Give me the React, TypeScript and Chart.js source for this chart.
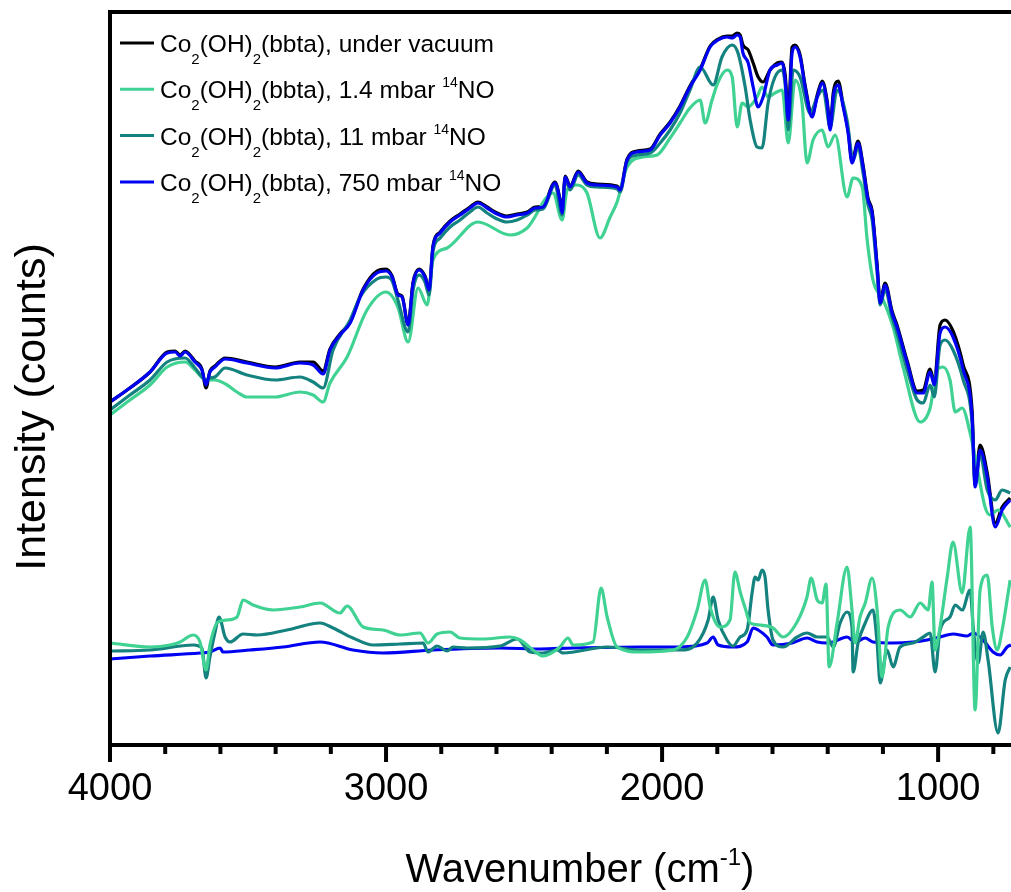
import React, { useEffect, useRef } from 'react';
import { Chart, registerables } from 'chart.js';

Chart.register(...registerables);

const FONT = '"Liberation Sans", Arial, Helvetica, sans-serif';

// ---------- x axis ticks ----------
const majorTicks = [1000, 2000, 3000, 4000];
const minorTicks = [800, 1200, 1400, 1600, 1800, 2200, 2400, 2600, 2800, 3200, 3400, 3600, 3800];

// ---------- upper spectra ----------
const vacuumWn = [4000,3928,3855,3793,3764,3746,3728,3692,3667,3652,3638,3620,3583,3504,3402,3312,3264,3228,3203,3167,3130,3083,3033,3000,2978,2957,2942,2920,2902,2880,2859,2844,2830,2804,2768,2732,2696,2667,2634,2605,2562,2525,2489,2460,2431,2388,2370,2362,2351,2333,2304,2272,2236,2163,2152,2127,2091,2043,2007,1971,1935,1899,1862,1826,1797,1765,1746,1728,1717,1707,1688,1670,1652,1634,1609,1583,1565,1554,1543,1529,1518,1500,1482,1457,1438,1420,1402,1391,1380,1362,1344,1326,1312,1290,1272,1254,1239,1221,1210,1192,1167,1149,1112,1076,1054,1029,1014,993,975,946,909,877,866,848,822,793,768,739];
const vacuumI = [343,357,373,393,394,390,394,384,376,357,374,379,387,383,378,383,383,374,396,411,423,456,474,476,469,451,449,421,463,476,469,456,499,513,524,531,538,543,538,533,529,531,533,538,539,563,546,533,569,559,574,563,561,559,556,586,594,596,611,623,639,659,676,699,706,709,709,712,710,700,695,682,668,663,675,682,683,670,632,698,700,690,660,630,650,664,644,617,652,664,640,614,584,604,580,547,534,480,444,462,434,420,384,354,355,376,363,420,425,414,380,335,262,300,272,222,238,247];

const mbar750Wn = [4000,3928,3855,3793,3764,3746,3728,3692,3667,3652,3638,3620,3583,3504,3402,3312,3264,3228,3203,3167,3130,3083,3033,3000,2978,2957,2942,2920,2902,2880,2859,2844,2830,2804,2768,2732,2696,2667,2634,2605,2562,2525,2489,2460,2431,2388,2370,2362,2351,2333,2304,2272,2236,2163,2152,2127,2091,2043,2007,1971,1935,1899,1862,1826,1797,1765,1746,1728,1717,1707,1688,1670,1652,1634,1609,1583,1565,1554,1543,1529,1518,1500,1482,1457,1438,1420,1402,1391,1380,1362,1344,1326,1312,1290,1272,1254,1239,1221,1210,1192,1167,1149,1112,1076,1054,1029,1014,993,975,946,909,877,866,848,822,793,768,739];
const mbar750I = [343,357,373,392,393,389,393,383,375,360,373,378,386,382,377,382,380,371,395,410,422,455,472,474,468,450,448,420,462,475,468,455,498,512,523,530,537,542,537,532,528,530,532,537,538,562,545,532,568,558,573,562,560,558,555,585,593,595,610,622,638,658,675,698,705,708,707,710,708,692,682,658,638,648,675,680,682,665,625,692,698,688,658,628,648,662,642,615,648,660,638,612,582,602,578,545,532,478,442,460,432,418,382,352,352,373,360,412,418,408,375,328,258,295,268,218,235,245];

const mbar11Wn = [4000,3928,3855,3793,3728,3692,3652,3638,3620,3583,3504,3402,3312,3264,3228,3192,3130,3094,3033,3000,2978,2957,2920,2902,2880,2859,2844,2830,2804,2768,2732,2696,2667,2634,2605,2562,2525,2489,2460,2431,2388,2362,2351,2333,2304,2272,2236,2163,2152,2127,2091,2043,2007,1971,1935,1899,1862,1815,1783,1746,1725,1699,1681,1656,1638,1616,1591,1565,1554,1543,1525,1500,1464,1438,1417,1391,1366,1330,1308,1290,1272,1254,1239,1221,1210,1192,1167,1149,1112,1076,1054,1029,1014,993,975,946,909,877,866,848,822,793,768,739];
const mbar11I = [335,350,365,383,387,377,365,367,368,377,370,365,368,363,357,395,425,448,466,468,464,445,413,455,470,463,450,493,507,518,525,533,538,532,527,523,525,530,535,536,560,530,565,555,570,560,558,556,553,583,590,592,602,615,632,655,678,660,688,700,692,658,625,598,597,642,668,675,660,615,675,668,632,648,655,618,655,625,585,598,572,540,525,472,440,455,428,412,375,345,342,360,348,400,405,395,365,322,260,290,255,245,255,252];

const mbar1p4Wn = [4000,3928,3855,3793,3728,3692,3652,3620,3576,3540,3504,3402,3312,3264,3228,3203,3141,3069,3000,2957,2920,2884,2851,2830,2779,2667,2551,2489,2395,2362,2344,2308,2272,2225,2188,2163,2127,2069,2018,1971,1935,1899,1862,1844,1819,1797,1765,1746,1728,1710,1688,1656,1638,1616,1591,1565,1543,1518,1493,1475,1453,1420,1399,1373,1330,1308,1275,1257,1236,1199,1163,1127,1065,1029,1004,982,957,938,913,884,859,830,812,783,739];
const mbar1p4I = [330,345,360,378,383,375,365,365,360,353,348,348,353,350,343,362,388,435,453,438,403,457,440,485,497,523,510,517,552,525,555,560,552,507,528,543,578,588,590,607,622,637,645,622,645,663,675,668,618,642,638,648,658,648,652,655,602,665,642,582,605,615,598,610,548,567,558,505,465,445,418,378,323,337,375,378,365,333,337,312,278,238,230,235,218];

// ---------- lower (difference) spectra ----------
const diff750Wn = [4000,3855,3674,3638,3601,3591,3493,3373,3239,3120,3011,2830,2587,2442,2322,2080,1935,1837,1815,1797,1743,1692,1670,1652,1620,1598,1529,1475,1438,1402,1380,1330,1301,1264,1236,1163,1091,1040,993,946,895,873,837,801,775,750,736];
const diff750I = [86,89,92,93,97,93,95,98,103,95,92,95,97,96,97,98,98,102,108,100,98,103,117,115,108,100,102,107,103,102,103,108,103,107,103,102,103,105,108,111,109,112,105,93,90,98,100];

const diff11Wn = [4000,3855,3699,3667,3652,3638,3620,3605,3583,3565,3518,3467,3359,3239,3192,3120,3047,2949,2866,2848,2815,2779,2757,2707,2587,2525,2478,2431,2380,2359,2199,2080,1935,1873,1833,1815,1797,1765,1743,1717,1692,1674,1663,1652,1638,1627,1616,1598,1562,1511,1475,1438,1402,1380,1355,1330,1312,1308,1290,1264,1236,1221,1210,1185,1163,1138,1091,1054,1029,1011,993,957,938,913,884,873,855,837,819,783,757,739];
const diff11I = [94,95,100,97,67,88,112,128,108,103,111,110,115,122,117,107,100,101,102,93,99,94,98,97,99,106,93,92,95,92,98,95,95,102,125,148,125,105,99,108,115,152,168,165,175,168,135,105,98,108,112,108,108,98,122,133,118,73,102,122,135,102,62,95,78,98,102,108,112,73,115,128,140,135,155,118,82,113,85,12,65,78];

const diff1p4Wn = [4000,3855,3783,3746,3699,3674,3652,3638,3609,3576,3540,3518,3482,3409,3312,3239,3167,3141,3083,3011,2949,2877,2848,2815,2768,2732,2649,2551,2514,2467,2431,2370,2341,2322,2250,2221,2199,2163,2080,1960,1909,1873,1844,1826,1790,1754,1736,1717,1699,1681,1645,1598,1562,1511,1475,1460,1438,1420,1406,1395,1366,1330,1312,1301,1283,1264,1239,1221,1203,1181,1138,1101,1065,1036,1022,1011,993,967,946,913,884,866,848,822,804,786,768,739];
const diff1p4I = [102,98,100,103,110,103,75,100,123,125,128,145,140,135,138,142,132,139,118,115,110,112,102,111,113,107,106,108,105,95,89,98,107,100,103,157,128,98,93,95,108,135,165,138,118,125,173,153,137,122,120,117,108,123,148,167,145,142,161,78,122,178,135,102,128,142,167,135,68,118,135,128,142,135,163,95,118,168,203,152,218,35,155,170,118,95,115,165];

// ---------- series meta ----------
const colors = {
  vacuum: '#000000',
  mbar1p4: '#3fd293',
  mbar11: '#14827f',
  mbar750: '#0000f2',
};

type Part = { t: string; sub?: boolean; sup?: boolean };
const legendEntries: { color: string; parts: Part[] }[] = [
  { color: colors.vacuum, parts: [{ t: 'Co' }, { t: '2', sub: true }, { t: '(OH)' }, { t: '2', sub: true }, { t: '(bbta), under vacuum' }] },
  { color: colors.mbar1p4, parts: [{ t: 'Co' }, { t: '2', sub: true }, { t: '(OH)' }, { t: '2', sub: true }, { t: '(bbta), 1.4 mbar ' }, { t: '14', sup: true }, { t: 'NO' }] },
  { color: colors.mbar11, parts: [{ t: 'Co' }, { t: '2', sub: true }, { t: '(OH)' }, { t: '2', sub: true }, { t: '(bbta), 11 mbar ' }, { t: '14', sup: true }, { t: 'NO' }] },
  { color: colors.mbar750, parts: [{ t: 'Co' }, { t: '2', sub: true }, { t: '(OH)' }, { t: '2', sub: true }, { t: '(bbta), 750 mbar ' }, { t: '14', sup: true }, { t: 'NO' }] },
];

const xTitleParts: Part[] = [{ t: 'Wavenumber (cm' }, { t: '-1', sup: true }, { t: ')' }];
const yTitle = 'Intensity (counts)';

function zip(wn: number[], iv: number[]) {
  const n = Math.min(wn.length, iv.length);
  const out: { x: number; y: number }[] = [];
  for (let i = 0; i < n; i++) out.push({ x: wn[i], y: iv[i] });
  return out;
}

function drawRich(ctx: CanvasRenderingContext2D, x: number, y: number, parts: Part[], size: number, subSize: number, subOff: number, supSize: number, supOff: number, align: 'left' | 'center') {
  const fontOf = (p: Part) => `${p.sub ? subSize : p.sup ? supSize : size}px ${FONT}`;
  let total = 0;
  for (const p of parts) { ctx.font = fontOf(p); total += ctx.measureText(p.t).width; }
  let cx = align === 'center' ? x - total / 2 : x;
  ctx.textAlign = 'left';
  ctx.textBaseline = 'alphabetic';
  for (const p of parts) {
    ctx.font = fontOf(p);
    const dy = p.sub ? subOff : p.sup ? supOff : 0;
    ctx.fillText(p.t, cx, y + dy);
    cx += ctx.measureText(p.t).width;
  }
}

const decorPlugin = {
  id: 'decor',
  afterDatasetsDraw(chart: any) {
    const ctx: CanvasRenderingContext2D = chart.ctx;
    const { left, right, top, bottom } = chart.chartArea;
    const xs = chart.scales.x;
    ctx.save();
    ctx.strokeStyle = '#000';
    ctx.fillStyle = '#000';
    ctx.lineWidth = 4;
    ctx.lineCap = 'butt';
    // frame
    ctx.beginPath();
    ctx.moveTo(right + 2, top);
    ctx.lineTo(left, top);
    ctx.lineTo(left, bottom);
    ctx.lineTo(right + 2, bottom);
    ctx.stroke();
    // ticks
    ctx.lineWidth = 4;
    for (const v of majorTicks) {
      const px = xs.getPixelForValue(v);
      ctx.beginPath(); ctx.moveTo(px, bottom); ctx.lineTo(px, bottom + 17); ctx.stroke();
    }
    for (const v of minorTicks) {
      const px = xs.getPixelForValue(v);
      ctx.beginPath(); ctx.moveTo(px, bottom); ctx.lineTo(px, bottom + 9); ctx.stroke();
    }
    // legend
    legendEntries.forEach((e, i) => {
      const ly = top + 31 + i * 46.3;
      ctx.strokeStyle = e.color;
      ctx.lineWidth = 3;
      ctx.beginPath(); ctx.moveTo(left + 10, ly); ctx.lineTo(left + 44, ly); ctx.stroke();
      ctx.fillStyle = '#000';
      drawRich(ctx, left + 50, ly + 9, e.parts, 24.5, 15, 12, 14, -11, 'left');
    });
    // x title
    drawRich(ctx, 580, 882, xTitleParts, 40, 24, 0, 24, -17, 'center');
    // y title
    ctx.save();
    ctx.translate(33, 407);
    ctx.rotate(-Math.PI / 2);
    ctx.font = `43px ${FONT}`;
    ctx.textAlign = 'center';
    ctx.textBaseline = 'middle';
    ctx.fillText(yTitle, 0, 0);
    ctx.restore();
    ctx.restore();
  },
};

export default function App() {
  const ref = useRef<HTMLCanvasElement | null>(null);
  useEffect(() => {
    if (!ref.current) return;
    const line = (data: any, color: string, order: number) => ({
      data, borderColor: color, backgroundColor: color, borderWidth: 3.2, pointRadius: 0,
      cubicInterpolationMode: 'monotone' as const, order, fill: false,
    });
    const chart = new Chart(ref.current, {
      type: 'line',
      data: {
        datasets: [
          line(zip(vacuumWn, vacuumI), colors.vacuum, 6),
          line(zip(mbar1p4Wn, mbar1p4I), colors.mbar1p4, 5),
          line(zip(mbar11Wn, mbar11I), colors.mbar11, 4),
          line(zip(mbar750Wn, mbar750I), colors.mbar750, 3),
          line(zip(diff750Wn, diff750I), colors.mbar750, 2),
          line(zip(diff11Wn, diff11I), colors.mbar11, 1),
          line(zip(diff1p4Wn, diff1p4I), colors.mbar1p4, 0),
        ],
      },
      options: {
        animation: false,
        responsive: false,
        devicePixelRatio: 1,
        layout: { padding: { left: 110, top: 12, right: 0, bottom: 0 } },
        plugins: { legend: { display: false }, tooltip: { enabled: false } },
        scales: {
          x: {
            type: 'linear',
            reverse: true,
            min: 736,
            max: 4000,
            afterBuildTicks: (s: any) => { s.ticks = majorTicks.map((v) => ({ value: v })); },
            afterFit: (s: any) => { s.height = 147; },
            ticks: {
              autoSkip: false,
              maxRotation: 0,
              padding: 22,
              color: '#000',
              font: { family: FONT, size: 38 },
              callback: (v: any) => String(v),
            },
            grid: { display: false, drawTicks: false },
            border: { display: false },
          },
          y: { display: false, min: 0, max: 733 },
        },
      },
      plugins: [decorPlugin],
    });
    return () => chart.destroy();
  }, []);
  return (
    <div style={{ position: 'absolute', left: 0, top: 0, width: 1011, height: 892, background: '#fff', overflow: 'hidden' }}>
      <canvas ref={ref} width={1011} height={892} style={{ display: 'block' }} />
    </div>
  );
}
